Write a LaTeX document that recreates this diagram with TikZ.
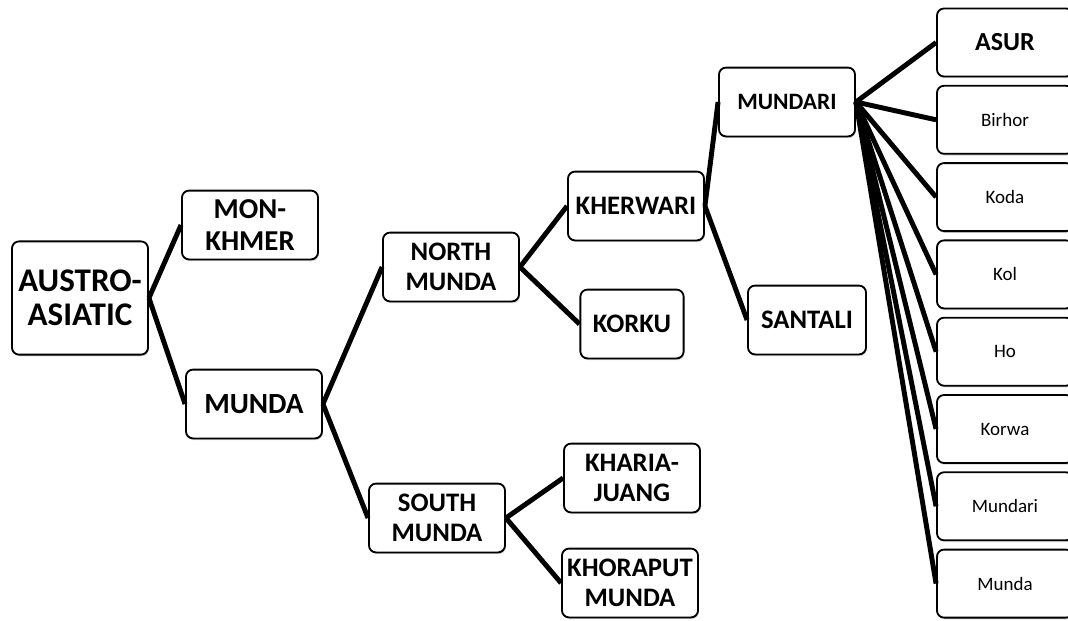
\documentclass[tikz,border=0pt]{standalone}
\usepackage{fontspec}
\setmainfont{Carlito}
\usetikzlibrary{shadows}

\begin{document}
\begin{tikzpicture}[x=0.025cm,y=-0.025cm,
  box/.style={draw=black,line width=1.3pt,rounded corners=5pt,fill=white,align=center,inner sep=1pt,
    drop shadow={shadow xshift=0.6pt,shadow yshift=-1.2pt,opacity=0.35}},
  group/.style={box,font=\fontsize{19}{21.5}\selectfont\bfseries,minimum width=3.4cm,minimum height=1.72cm},
  lang/.style={box,font=\fontsize{13.5}{15}\selectfont,minimum width=3.4cm,minimum height=1.7cm},
  branch/.style={line width=3.5pt}]
 \path[use as bounding box,clip] (0,0) rectangle (1068,620);
 \node[group,minimum width=3.4cm,minimum height=2.83cm,font=\fontsize{23.5}{24}\selectfont\bfseries] (austro) at (80,298) {AUSTRO-\\ASIATIC};
 \node[group,font=\fontsize{20.5}{22.8}\selectfont\bfseries] (monkhmer) at (250,225) {MON-\\KHMER};
 \node[group,font=\fontsize{20.8}{23}\selectfont\bfseries] (munda) at (254,404) {MUNDA};
 \node[group,minimum width=3.4cm] (north) at (451,267) {NORTH\\MUNDA};
 \node[group] (south) at (437,518) {SOUTH\\MUNDA};
 \node[group] (kherwari) at (636,206) {KHERWARI};
 \node[group,minimum width=2.58cm] (korku) at (632,324) {KORKU};
 \node[group] (kharia) at (632,478) {KHARIA-\\JUANG};
 \node[group] (khoraput) at (630,583) {KHORAPUT\\MUNDA};
 \node[group,font=\fontsize{16.7}{20}\selectfont\bfseries] (mundari) at (787,102) {MUNDARI};
 \node[group,minimum width=2.95cm] (santali) at (807,320) {SANTALI};
 \node[lang,font=\fontsize{18.5}{21}\selectfont\bfseries] (l0) at (1005,42.5) {ASUR};
 \foreach \name [count=\i] in {Birhor,Koda,Kol,Ho,Korwa,Mundari,Munda}
   \node[lang] (l\i) at (1005,{42.5+77.3*\i}) {\name};
 \draw[branch] (austro.east) -- (monkhmer.west);
 \draw[branch] (austro.east) -- (munda.west);
 \draw[branch] (munda.east) -- (north.west);
 \draw[branch] (munda.east) -- (south.west);
 \draw[branch] (north.east) -- (kherwari.west);
 \draw[branch] (north.east) -- (korku.west);
 \draw[branch] (south.east) -- (kharia.west);
 \draw[branch] (south.east) -- (khoraput.west);
 \draw[branch] (kherwari.east) -- (mundari.west);
 \draw[branch] (kherwari.east) -- (santali.west);
 \foreach \i in {0,...,7}
   \draw[branch] (mundari.east) -- (l\i.west);
\end{tikzpicture}
\end{document}
